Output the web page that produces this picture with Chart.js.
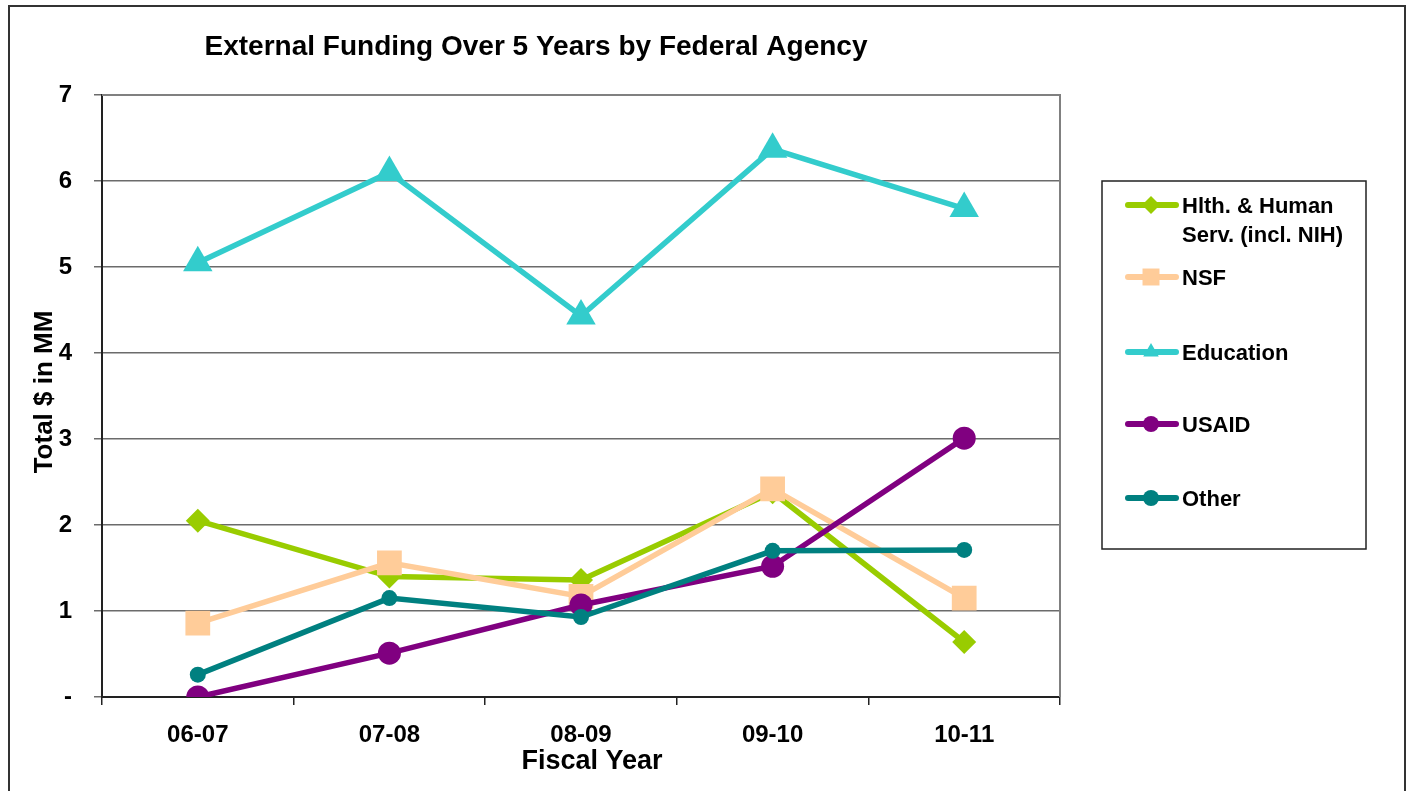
<!DOCTYPE html>
<html>
<head>
<meta charset="utf-8">
<script src="https://cdn.jsdelivr.net/npm/chart.js@4/dist/chart.umd.min.js"></script>
<style>
  html, body { margin: 0; padding: 0; background: #fff; }
  #wrap { width: 1411px; height: 791px; position: relative; }
</style>
</head>
<body>
<div id="wrap"><canvas id="c" width="1411" height="791"></canvas></div>
<script>
const chartTitle = 'External Funding Over 5 Years by Federal Agency';
const xAxisTitle = 'Fiscal Year';
const yAxisTitle = 'Total $ in MM';
const categories = ['06-07', '07-08', '08-09', '09-10', '10-11'];
const seriesNames = ['Hlth. & Human Serv. (incl. NIH)', 'NSF', 'Education', 'USAID', 'Other'];
const legendLines = [['Hlth. & Human', 'Serv. (incl. NIH)'], ['NSF'], ['Education'], ['USAID'], ['Other']];
const hhsValues = [2.05, 1.40, 1.36, 2.38, 0.64];
const nsfValues = [0.86, 1.56, 1.17, 2.42, 1.15];
const educationValues = [5.05, 6.10, 4.43, 6.37, 5.68];
const usaidValues = [0.00, 0.51, 1.07, 1.52, 3.01];
const otherValues = [0.26, 1.15, 0.93, 1.70, 1.71];
const yTickValues = [0, 1, 2, 3, 4, 5, 6, 7];
const yTickLabels = ['-', '1', '2', '3', '4', '5', '6', '7'];

const FONT = '"Liberation Sans", Arial, sans-serif';

const styles = [
  { color: '#99CC00', pointStyle: 'rectRot', radius: 12 },
  { color: '#FFCC99', pointStyle: 'rect', radius: 17.5 },
  { color: '#33CCCC', pointStyle: 'triangle', radius: 17 },
  { color: '#800080', pointStyle: 'circle', radius: 11.5 },
  { color: '#008080', pointStyle: 'circle', radius: 8 }
];
const allValues = [hhsValues, nsfValues, educationValues, usaidValues, otherValues];

const datasets = allValues.map((vals, i) => ({
  label: seriesNames[i],
  data: vals,
  borderColor: styles[i].color,
  backgroundColor: styles[i].color,
  borderWidth: 5.5,
  pointStyle: styles[i].pointStyle,
  pointRadius: styles[i].radius,
  pointHoverRadius: styles[i].radius,
  pointBackgroundColor: styles[i].color,
  pointBorderColor: styles[i].color,
  pointBorderWidth: 0,
  tension: 0,
  fill: false,
  order: 5 - i
}));

function drawMarker(ctx, style, x, y, r, color) {
  ctx.save();
  ctx.fillStyle = color;
  ctx.beginPath();
  if (style === 'circle') {
    ctx.arc(x, y, r, 0, Math.PI * 2);
  } else if (style === 'rect') {
    const s = r * Math.SQRT1_2;
    ctx.rect(x - s, y - s, 2 * s, 2 * s);
  } else if (style === 'rectRot') {
    ctx.moveTo(x, y - r); ctx.lineTo(x + r, y); ctx.lineTo(x, y + r); ctx.lineTo(x - r, y); ctx.closePath();
  } else if (style === 'triangle') {
    ctx.moveTo(x, y - r);
    ctx.lineTo(x + r * Math.sin(Math.PI / 3), y + r * 0.5);
    ctx.lineTo(x - r * Math.sin(Math.PI / 3), y + r * 0.5);
    ctx.closePath();
  }
  ctx.fill();
  ctx.restore();
}

const framePlugin = {
  id: 'frame',
  beforeDraw(chart) {
    const ctx = chart.ctx;
    ctx.save();
    ctx.fillStyle = '#fff';
    ctx.fillRect(0, 0, chart.width, chart.height);
    ctx.restore();
  },
  beforeDatasetsDraw(chart) {
    const ctx = chart.ctx;
    const a = chart.chartArea;
    ctx.save();
    ctx.strokeStyle = '#808080';
    ctx.lineWidth = 2;
    ctx.beginPath();
    ctx.moveTo(a.left, a.top);
    ctx.lineTo(a.right, a.top);
    ctx.lineTo(a.right, a.bottom);
    ctx.stroke();
    ctx.restore();
  },
  afterDraw(chart) {
    const ctx = chart.ctx;
    ctx.save();
    // outer frame
    ctx.strokeStyle = '#333';
    ctx.lineWidth = 2;
    ctx.strokeRect(9, 6, 1396, 800);
    // title and axis titles
    ctx.fillStyle = '#000';
    ctx.textAlign = 'center';
    ctx.textBaseline = 'middle';
    ctx.font = 'bold 28px ' + FONT;
    ctx.fillText(chartTitle, 536, 47);
    ctx.font = 'bold 27px ' + FONT;
    ctx.fillText(xAxisTitle, 592, 762);
    ctx.save();
    ctx.translate(45, 392);
    ctx.rotate(-Math.PI / 2);
    ctx.font = 'bold 26px ' + FONT;
    ctx.fillText(yAxisTitle, 0, 0);
    ctx.restore();
    // legend box
    const lx = 1102, ly = 181, lw = 264, lh = 368;
    ctx.lineWidth = 1.5;
    ctx.strokeStyle = '#222';
    ctx.strokeRect(lx, ly, lw, lh);
    const rowY = [205, 277, 352, 424, 498];
    ctx.font = 'bold 22px ' + FONT;
    ctx.textBaseline = 'middle';
    ctx.textAlign = 'left';
    chart.data.datasets.forEach((ds, i) => {
      const y = rowY[i];
      ctx.strokeStyle = ds.borderColor;
      ctx.lineWidth = 6;
      ctx.lineCap = 'round';
      ctx.beginPath();
      ctx.moveTo(1128, y);
      ctx.lineTo(1176, y);
      ctx.stroke();
      const st = styles[i];
      const rr = st.pointStyle === 'circle' ? 8 : (st.pointStyle === 'rect' ? 12 : 9);
      drawMarker(ctx, st.pointStyle, 1151, y, rr, ds.borderColor);
      ctx.fillStyle = '#000';
      legendLines[i].forEach((t, k) => {
        ctx.fillText(t, 1182, y + 2 + k * 29);
      });
    });
    ctx.restore();
  }
};

new Chart(document.getElementById('c'), {
  type: 'line',
  data: { labels: categories, datasets: datasets },
  plugins: [framePlugin],
  options: {
    responsive: false,
    animation: false,
    events: [],
    layout: { padding: { left: 0, right: 351, top: 95, bottom: 0 } },
    plugins: {
      legend: { display: false },
      tooltip: { enabled: false },
      title: { display: false }
    },
    scales: {
      x: {
        type: 'category',
        offset: true,
        afterFit(scale) { scale.height = 94; },
        grid: {
          offset: true,
          drawOnChartArea: false,
          drawTicks: true,
          tickLength: 8,
          color: '#222',
          lineWidth: 1.5
        },
        border: { color: '#222', width: 2 },
        ticks: {
          color: '#000',
          padding: 16,
          maxRotation: 0,
          font: { family: FONT, size: 24, weight: 'bold' }
        },
        title: { display: false }
      },
      y: {
        min: 0,
        max: 7,
        afterFit(scale) { scale.width = 102; },
        afterBuildTicks(scale) { scale.ticks = yTickValues.map(v => ({ value: v })); },
        grid: {
          drawOnChartArea: true,
          drawTicks: true,
          tickLength: 8,
          color: '#6b6b6b',
          lineWidth: 1.5
        },
        border: { color: '#222', width: 2 },
        ticks: {
          color: '#000',
          padding: 22,
          font: { family: FONT, size: 24, weight: 'bold' },
          callback(v) { const k = yTickValues.indexOf(v); return k >= 0 ? yTickLabels[k] : ''; }
        },
        title: { display: false }
      }
    }
  }
});
</script>
</body>
</html>
